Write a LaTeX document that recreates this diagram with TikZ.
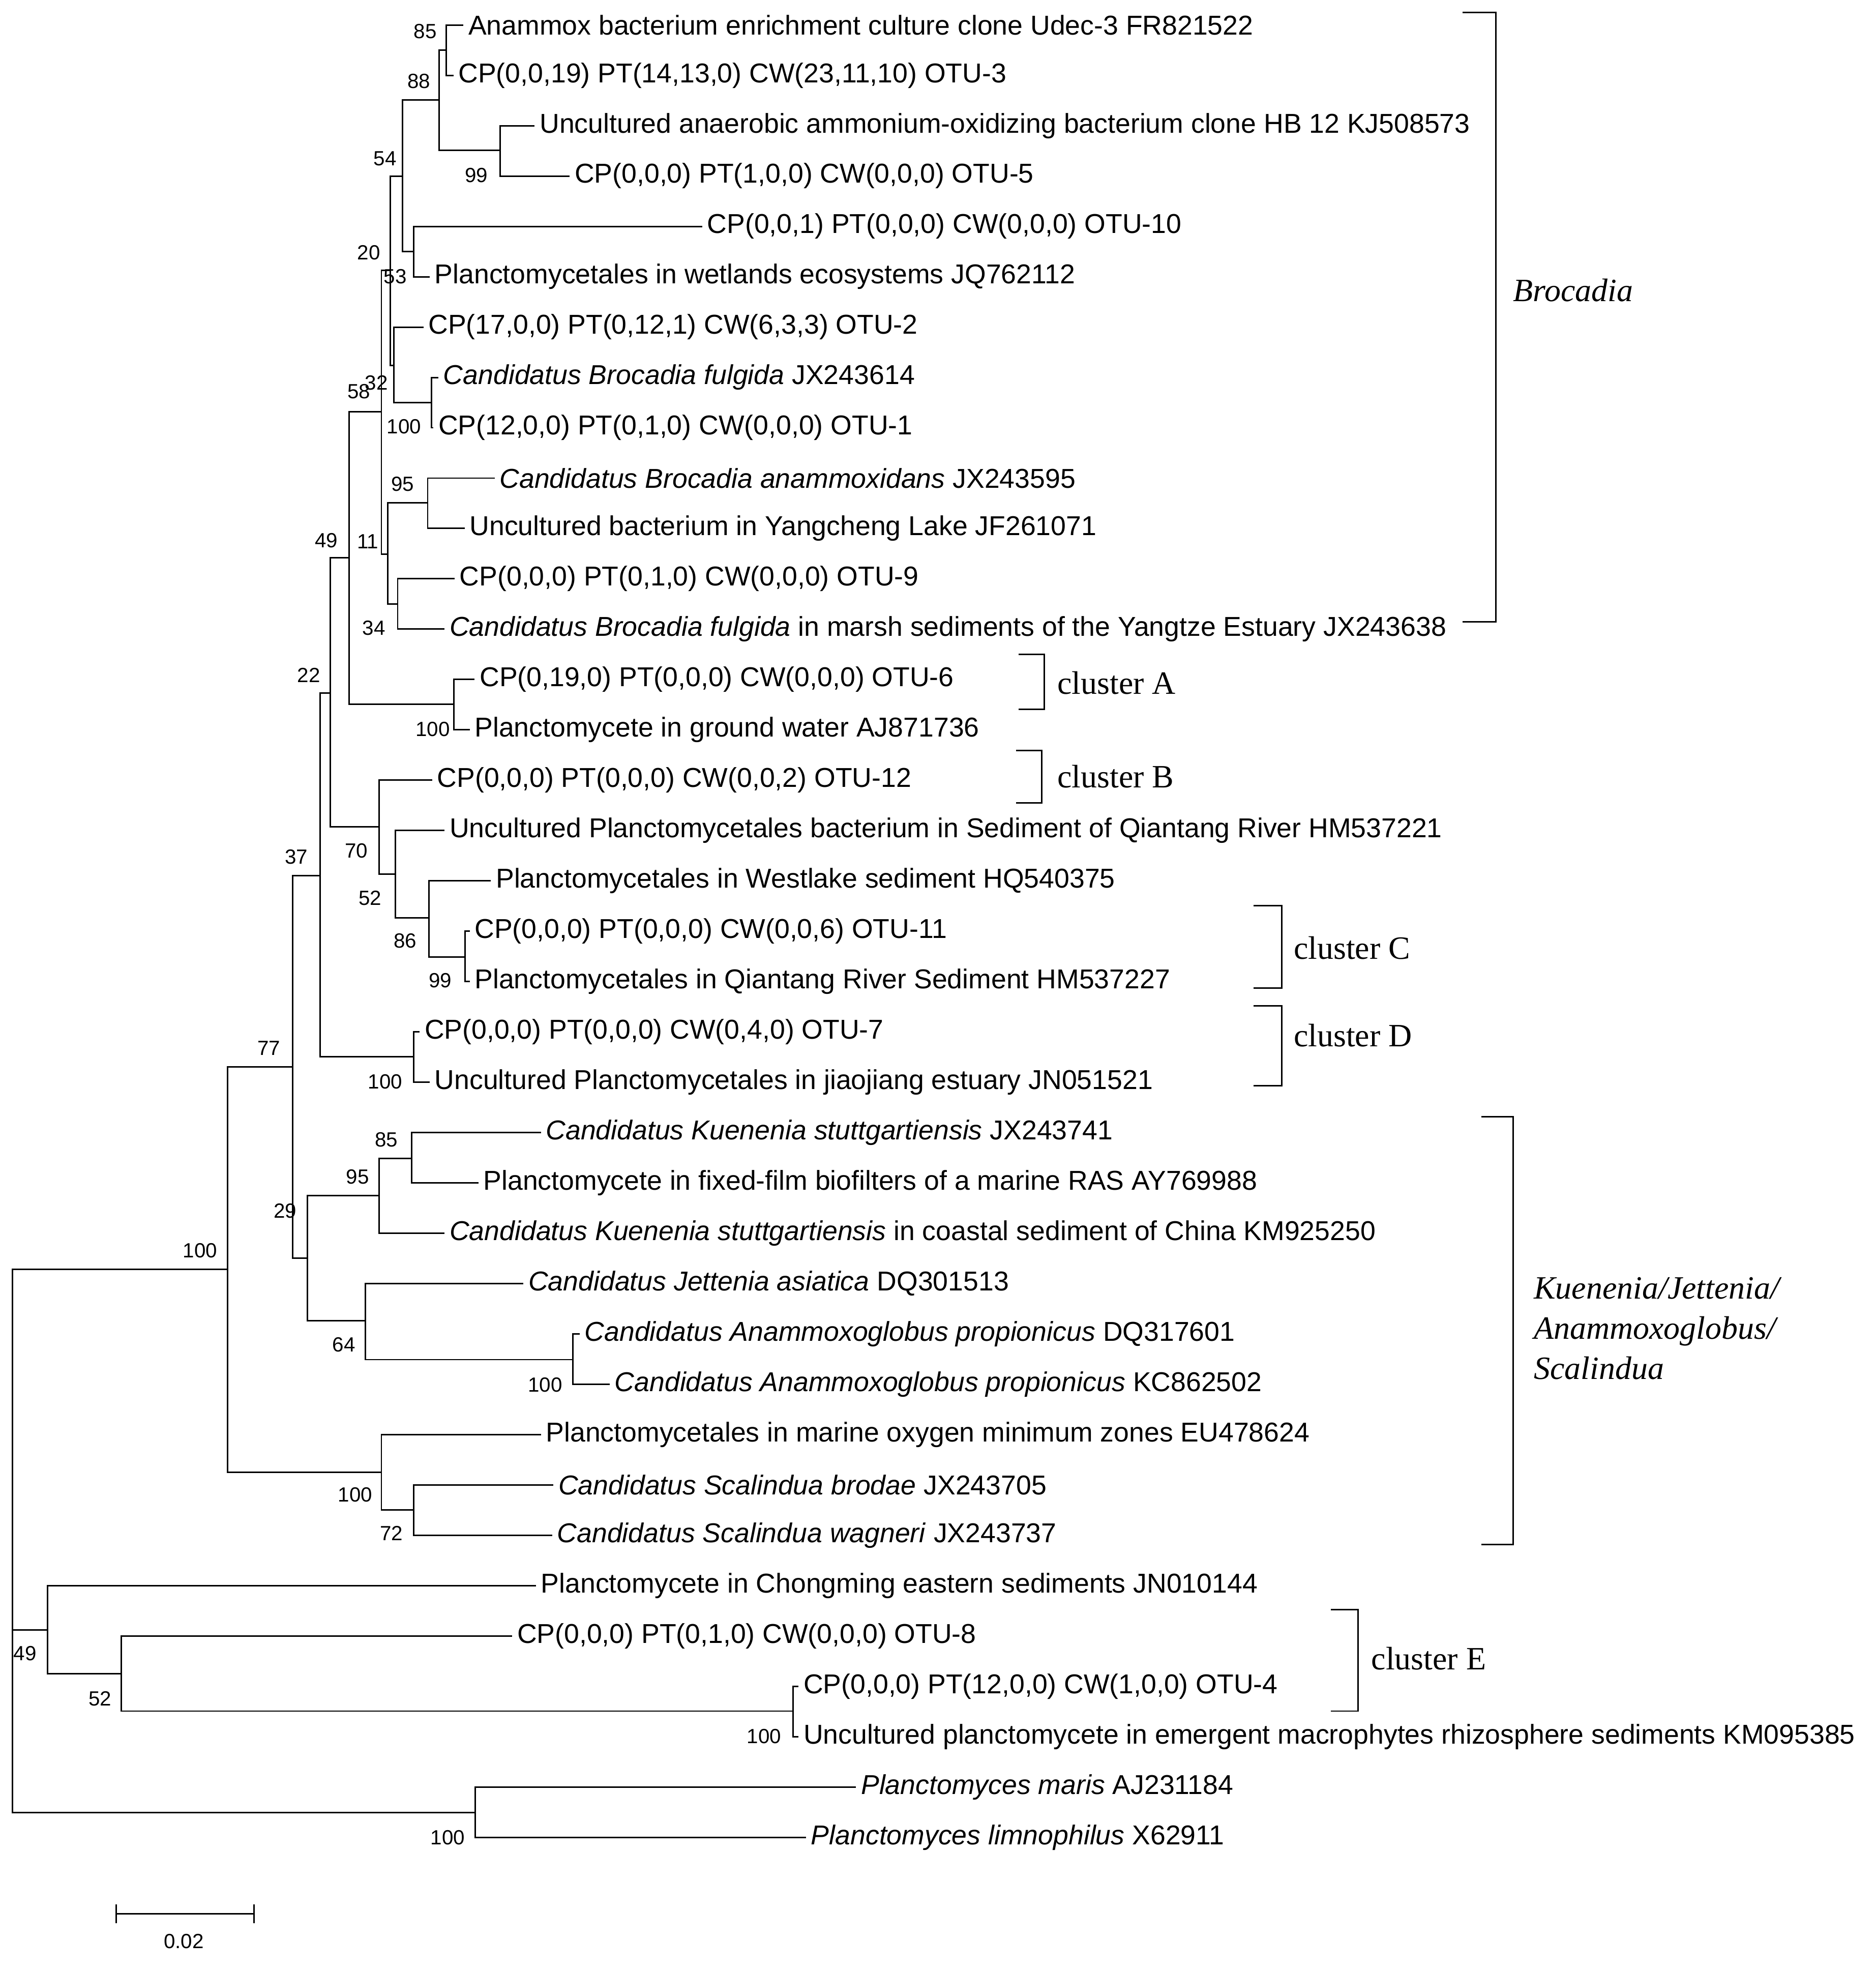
\documentclass[tikz,border=0pt]{standalone}
\usepackage{fontspec}
\setmainfont{Liberation Sans}
\newfontfamily\serifx{Liberation Serif}
\begin{document}
\begin{tikzpicture}[x=0.5pt,y=-0.5pt,line width=0.6pt,line cap=rect,
 tip/.style={anchor=west,inner sep=2pt,font=\fontsize{10.9}{12}\selectfont},
 bs/.style={inner sep=0pt,font=\fontsize{8.2}{10}\selectfont},
 cl/.style={inner sep=0pt,font=\serifx\fontsize{13}{15}\selectfont}]
\useasboundingbox (0,0) rectangle (1500,1575);
\newcommand\clade[3]{\draw (#1|-#2) -- (#1|-#3); \draw (#1|-#2) -- (#2); \draw (#1|-#3) -- (#3);}
% tips
\foreach \i/\x/\t in {
0/370/{Anammox bacterium enrichment culture clone Udec-3 FR821522},
1/362/{CP(0,0,19) PT(14,13,0) CW(23,11,10) OTU-3},
2/427/{Uncultured anaerobic ammonium-oxidizing bacterium clone HB 12 KJ508573},
3/455/{CP(0,0,0) PT(1,0,0) CW(0,0,0) OTU-5},
4/561/{CP(0,0,1) PT(0,0,0) CW(0,0,0) OTU-10},
5/343/{Planctomycetales in wetlands ecosystems JQ762112},
6/338/{CP(17,0,0) PT(0,12,1) CW(6,3,3) OTU-2},
7/350/{\textit{Candidatus Brocadia fulgida} JX243614},
8/346/{CP(12,0,0) PT(0,1,0) CW(0,0,0) OTU-1},
9/395/{\textit{Candidatus Brocadia anammoxidans} JX243595},
10/371/{Uncultured bacterium in Yangcheng Lake JF261071},
11/363/{CP(0,0,0) PT(0,1,0) CW(0,0,0) OTU-9},
12/355/{\textit{Candidatus Brocadia fulgida} in marsh sediments of the Yangtze Estuary JX243638},
13/379/{CP(0,19,0) PT(0,0,0) CW(0,0,0) OTU-6},
14/375/{Planctomycete in ground water AJ871736},
15/345/{CP(0,0,0) PT(0,0,0) CW(0,0,2) OTU-12},
16/355/{Uncultured Planctomycetales bacterium in Sediment of Qiantang River HM537221},
17/392/{Planctomycetales in Westlake sediment HQ540375},
18/375/{CP(0,0,0) PT(0,0,0) CW(0,0,6) OTU-11},
19/375/{Planctomycetales in Qiantang River Sediment HM537227},
20/335/{CP(0,0,0) PT(0,0,0) CW(0,4,0) OTU-7},
21/343/{Uncultured Planctomycetales in jiaojiang estuary JN051521},
22/432/{\textit{Candidatus Kuenenia stuttgartiensis} JX243741},
23/382/{Planctomycete in fixed-film biofilters of a marine RAS AY769988},
24/355/{\textit{Candidatus Kuenenia stuttgartiensis} in coastal sediment of China KM925250},
25/418/{\textit{Candidatus Jettenia asiatica} DQ301513},
26/463/{\textit{Candidatus Anammoxoglobus propionicus} DQ317601},
27/487/{\textit{Candidatus Anammoxoglobus propionicus} KC862502},
28/432/{Planctomycetales in marine oxygen minimum zones EU478624},
29/442/{\textit{Candidatus Scalindua brodae} JX243705},
30/441/{\textit{Candidatus Scalindua wagneri} JX243737},
31/428/{Planctomycete in Chongming eastern sediments JN010144},
32/409/{CP(0,0,0) PT(0,1,0) CW(0,0,0) OTU-8},
33/638/{CP(0,0,0) PT(12,0,0) CW(1,0,0) OTU-4},
34/638/{Uncultured planctomycete in emergent macrophytes rhizosphere sediments KM095385},
35/684/{\textit{Planctomyces maris} AJ231184},
36/644/{\textit{Planctomyces limnophilus} X62911}}
{\coordinate (e\i) at (\x,{20+40.25*\i}); \node[tip] (t\i) at (e\i) {\t};}
% internal nodes
\foreach \n/\x/\y in {n85/357/40, n99a/400/120, n88/351/80, n53/331/201, n54/322/141,
 n100a/345/322, n32/315/292, n20/312/216, n95/342/402, n34/318/483, n11/310/443,
 n58/305/329, n100b/363/563, n49/279/446, n99b/372/765, n86/343/734, n52/316/699,
 n70/303/661, n22/264/554, n100c/331/845, n37/256/700, n85b/329/926, n95b/303/956,
 n100d/458/1087, n64/292/1056, n29/246/1006, n77/234/853, n72/331/1207, n100f/305/1177,
 n100e/182/1015, nF/634/1368, nE/97/1338, nB/38/1303, nP/380/1449, root/10/1232}
{\coordinate (\n) at (\x,\y);}
\clade{n85}{e0}{e1}\clade{n99a}{e2}{e3}\clade{n88}{n85}{n99a}\clade{n53}{e4}{e5}
\clade{n54}{n88}{n53}\clade{n100a}{e7}{e8}\clade{n32}{e6}{n100a}\clade{n20}{n54}{n32}
\clade{n95}{e9}{e10}\clade{n34}{e11}{e12}\clade{n11}{n95}{n34}\clade{n58}{n20}{n11}
\clade{n100b}{e13}{e14}\clade{n49}{n58}{n100b}\clade{n99b}{e18}{e19}\clade{n86}{e17}{n99b}
\clade{n52}{e16}{n86}\clade{n70}{e15}{n52}\clade{n22}{n49}{n70}\clade{n100c}{e20}{e21}
\clade{n37}{n22}{n100c}\clade{n85b}{e22}{e23}\clade{n95b}{n85b}{e24}\clade{n100d}{e26}{e27}
\clade{n64}{e25}{n100d}\clade{n29}{n95b}{n64}\clade{n77}{n37}{n29}\clade{n72}{e29}{e30}
\clade{n100f}{e28}{n72}\clade{n100e}{n77}{n100f}\clade{nF}{e33}{e34}\clade{nE}{e32}{nF}
\clade{nB}{e31}{nE}\clade{nP}{e35}{e36}
\clade{root}{n100e}{nP}\draw (root|-nB) -- (nB);
% bootstrap labels
\foreach \x/\y/\t in {340/25/85, 335/65/88, 381/140/99, 308/127/54, 295/202/20, 316/221/53,
 301/306/32, 287/313/58, 323/341/100, 322/387/95, 294/433/11, 299/502/34, 261/432/49,
 346/583/100, 247/540/22, 285/680/70, 296/718/52, 324/752/86, 352/784/99, 237/685/37,
 308/865/100, 215/838/77, 309/911/85, 286/941/95, 228/968/29, 275/1075/64, 436/1107/100,
 160/1000/100, 284/1195/100, 313/1226/72, 20/1322/49, 80/1358/52, 611/1388/100, 358/1469/100}
{\node[bs] at (\x,\y) {\t};}
% brackets
\draw (1170,10) -- (1196,10) -- (1196,497) -- (1170,497);
\node[cl,font=\serifx\itshape\fontsize{13}{15}\selectfont] at (1258,232) {Brocadia};
\draw (815,523) -- (835,523) -- (835,567) -- (815,567); \node[cl,anchor=west] at (845,546) {cluster A};
\draw (813,600) -- (833,600) -- (833,642) -- (813,642); \node[cl,anchor=west] at (845,621) {cluster B};
\draw (1003,724) -- (1025,724) -- (1025,790) -- (1003,790); \node[cl,anchor=west] at (1034,758) {cluster C};
\draw (1003,804) -- (1025,804) -- (1025,868) -- (1003,868); \node[cl,anchor=west] at (1034,828) {cluster D};
\draw (1185,893) -- (1210,893) -- (1210,1235) -- (1185,1235);
\node[cl,anchor=west,font=\serifx\itshape\fontsize{13}{15}\selectfont,align=left] at (1226,1062) {Kuenenia/Jettenia/\\[1pt]Anammoxoglobus/\\[1pt]Scalindua};
\draw (1065,1287) -- (1086,1287) -- (1086,1368) -- (1065,1368); \node[cl,anchor=west] at (1096,1326) {cluster E};
% scale bar
\coordinate (s1) at (93,1530); \coordinate (s2) at (203,1530);
\draw (s1) -- (s2); \draw (93,1523) -- (93,1537); \draw (203,1523) -- (203,1537);
\node[bs] at (147,1552) {0.02};
\end{tikzpicture}
\end{document}
